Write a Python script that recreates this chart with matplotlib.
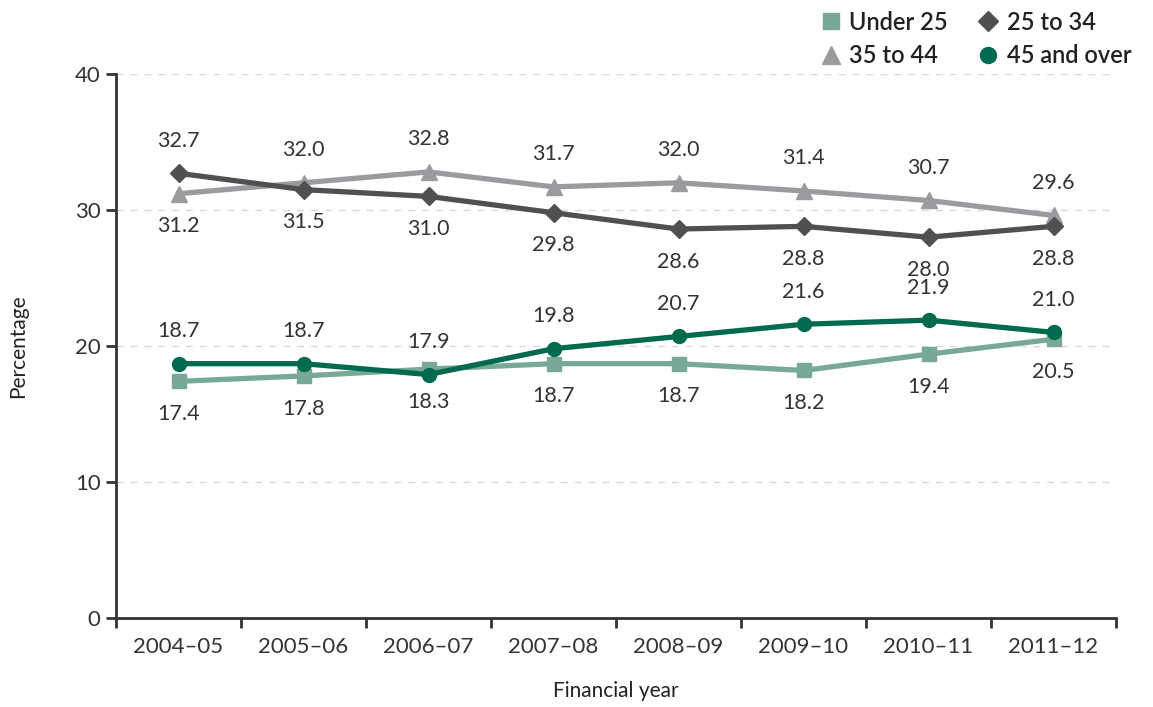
import numpy as np
import matplotlib.pyplot as plt
from matplotlib.ticker import FixedLocator

plt.rcParams['font.family'] = ['Lato', 'DejaVu Sans']

years = ["2004–05", "2005–06", "2006–07", "2007–08", "2008–09", "2009–10", "2010–11", "2011–12"]
under25 = [17.4, 17.8, 18.3, 18.7, 18.7, 18.2, 19.4, 20.5]
age25_34 = [32.7, 31.5, 31.0, 29.8, 28.6, 28.8, 28.0, 28.8]
age35_44 = [31.2, 32.0, 32.8, 31.7, 32.0, 31.4, 30.7, 29.6]
age45 = [18.7, 18.7, 17.9, 19.8, 20.7, 21.6, 21.9, 21.0]

# label placement: +1 above, -1 below
pos_under25 = [-1, -1, -1, -1, -1, -1, -1, -1]
pos_25_34 = [1, -1, -1, -1, -1, -1, -1, -1]
pos_35_44 = [-1, 1, 1, 1, 1, 1, 1, 1]
pos_45 = [1, 1, 1, 1, 1, 1, 1, 1]

fig = plt.figure(figsize=(11.53, 7.07), dpi=100)
ax = fig.add_axes([116 / 1153, 89 / 707, 1000 / 1153, 544 / 707])

x = np.arange(len(years))
series = [
    ("Under 25", under25, "#78a896", "s", 10, pos_under25),
    ("25 to 34", age25_34, "#505053", "D", 9, pos_25_34),
    ("35 to 44", age35_44, "#9b9b9f", "^", 11, pos_35_44),
    ("45 and over", age45, "#006a4e", "o", 10, pos_45),
]
order = [0, 2, 1, 3]
for i in order:
    name, vals, col, mk, ms, pos = series[i]
    ax.plot(x, vals, color=col, marker=mk, markersize=ms, linewidth=3.8, label=name, zorder=3)
    for xi, v, p in zip(x, vals, pos):
        ax.annotate(f"{v:.1f}", (xi, v), xytext=(0, 23.5 * p), textcoords="offset points",
                    ha="center", va="center", fontsize=15.5, color="#333333")

ax.set_xlim(-0.5, 7.5)
ax.set_ylim(0, 40)
ax.set_yticks([0, 10, 20, 30, 40])
ax.yaxis.grid(True, linestyle=(0, (5, 5)), color="#d9d9d9", linewidth=1)
ax.set_axisbelow(True)
ax.xaxis.set_major_locator(FixedLocator(x))
ax.set_xticklabels(years)
ax.xaxis.set_minor_locator(FixedLocator(np.arange(-0.5, 8, 1)))
ax.tick_params(axis="x", which="major", length=0, pad=14, labelsize=16, labelcolor="#333333")
ax.tick_params(axis="x", which="minor", length=7, width=2, color="#333333")
ax.tick_params(axis="y", length=7, width=2, color="#333333", labelsize=16, labelcolor="#333333", pad=4)
for s in ["top", "right"]:
    ax.spines[s].set_visible(False)
for s in ["left", "bottom"]:
    ax.spines[s].set_linewidth(2)
    ax.spines[s].set_color("#333333")

ax.set_ylabel("Percentage", fontsize=15, color="#222222", labelpad=34)
ax.set_xlabel("Financial year", fontsize=15, color="#222222", labelpad=17)

handles, labels = ax.get_legend_handles_labels()
leg_order = ["Under 25", "35 to 44", "25 to 34", "45 and over"]
hmap = dict(zip(labels, handles))
leg = fig.legend([hmap[l] for l in leg_order], leg_order, ncol=2, loc="upper right",
                 bbox_to_anchor=(1.0, 1.015), frameon=False,
                 prop={"size": 17, "weight": "semibold"},
                 handlelength=0.8, handletextpad=0.4, columnspacing=1.3, labelspacing=0.45,
                 markerscale=1.15)
for h in leg.legend_handles:
    h.set_linestyle("None")
for t in leg.get_texts():
    t.set_color("#222222")

fig.savefig("out.png", dpi=100)
